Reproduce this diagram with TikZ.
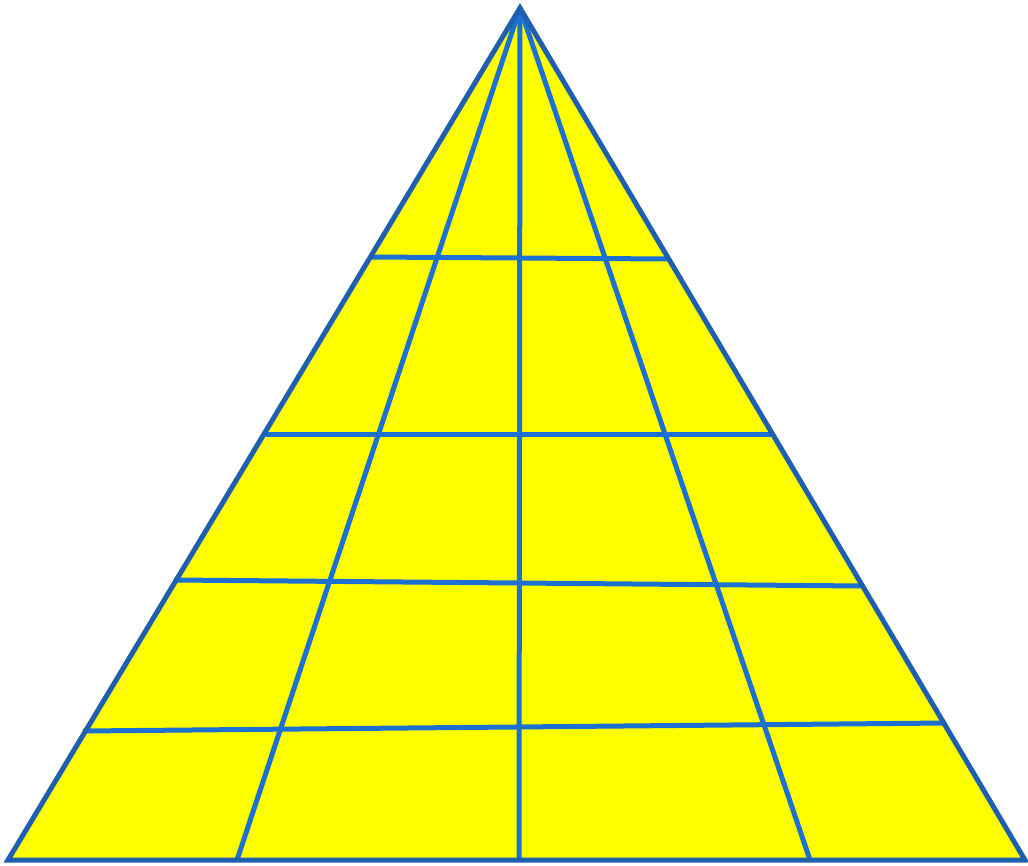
\documentclass[tikz,border=0pt]{standalone}
\definecolor{fillyellow}{HTML}{FFFF00}
\definecolor{edgeblue}{HTML}{1F5FAF}
\definecolor{gridblue}{HTML}{1C70D2}
\begin{document}
\begin{tikzpicture}[x=1pt,y=-1pt,
  gridline/.style={draw=gridblue,line width=5pt,line cap=butt},
  outline/.style={draw=edgeblue,line width=5pt,line join=miter}]
\useasboundingbox (0,0) rectangle (1028,865);
\coordinate (A) at (520,8);
\coordinate (L) at (8,860);
\coordinate (R) at (1025,860);
\fill[fillyellow] (A) -- (L) -- (R) -- cycle;
% rays from apex
\coordinate (b1) at (237,860);
\coordinate (b2) at (519,860);
\coordinate (b3) at (810,860);
\draw[gridline] (A) -- (b1);
\draw[gridline] (A) -- (b2);
\draw[gridline] (A) -- (b3);
% horizontal lines
\draw[gridline] (370,257) -- (669,259);
\draw[gridline] (266,434) -- (774,434);
\draw[gridline] (174,580) -- (863,586);
\draw[gridline] (83,731) -- (946,723);
% outline
\draw[outline] (A) -- (L) -- (R) -- cycle;
\end{tikzpicture}
\end{document}
